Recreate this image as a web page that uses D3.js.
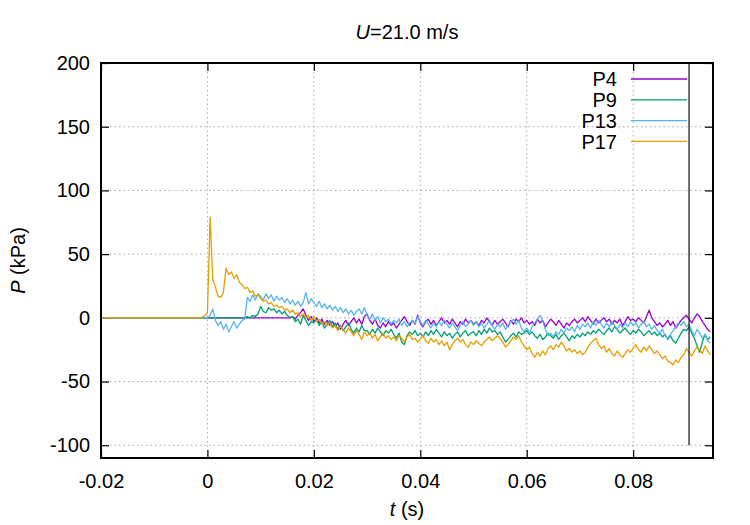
<!DOCTYPE html>
<html>
<head>
<meta charset="utf-8">
<script src="https://cdn.jsdelivr.net/npm/d3@7"></script>
<style>
    body { margin: 0; background: #fff; }
    svg text { font-family: "Liberation Sans", Arial, sans-serif; }
</style>
</head>
<body>
<svg id="chart"></svg>
<script>
// sampled pressure traces (kPa), first sample at t0, one sample every dt seconds
const t0 = -0.02, dt = 0.0005;

const p4 = [
    0,0,0,0,0,0,0,0,0,0, 0,0,0,0,0,0,0,0,0,0, 0,0,0,0,0,0,0,0,0,0, 0,0,0,0,0,0,0,0,0,0,
    0,0,0,0,0,0,0,0,0,0, 0,0,0,0,0,0,0,0,0,0, 0,0,0,0,0,0,0,0,0,0,
    0,0,1,-1,2,4,7,2,-2,1,
    -3,0,-4,-1,-5,-2,-6,-3,-7,-4,
    -9,-5,-2,-6,-3,0,-4,-1,-5,1,
    3,-2,-5,-1,-6,-8,-4,-7,-3,-6,
    -4,-8,-5,-2,1,-3,-6,-2,-5,2,
    -4,-7,-3,-1,-5,-2,-6,-3,0,-4,
    -2,-5,-1,-4,-7,-3,-5,-1,-4,-2,
    -5,-3,-6,-2,-4,0,-3,-6,-2,-5,
    -3,-1,-4,-7,-2,-5,-1,-3,0,-4,
    -2,-5,-3,-6,-1,-4,-2,-7,-4,-1,
    -3,-6,-2,-5,-8,-4,-6,-3,-1,-4,
    -2,0,-3,1,-2,-5,-1,-4,-2,0,
    -3,-1,-5,-2,-4,-1,-6,-3,1,-2,
    -1,-3,0,-2,-4,1,6,0,-3,-6,
    -4,-7,-5,-2,-6,-3,-8,-5,-2,0,
    2,-1,-4,0,3,1,-3,-6,-9,-11
];

const p9 = [
    0,0,0,0,0,0,0,0,0,0, 0,0,0,0,0,0,0,0,0,0, 0,0,0,0,0,0,0,0,0,0, 0,0,0,0,0,0,0,0,0,0,
    0,0,0,0,0,0,0,0,0,0,
    0,0,0,0,0,1,0,2,1,3,
    9,5,4,8,6,7,4,6,3,5,
    2,0,1,-3,-1,-5,2,-2,-6,-3,
    -4,-1,-6,-3,-8,-5,-2,-7,-4,-9,
    -6,-10,-7,-4,-9,-12,-8,-11,-6,-10,
    -10,-13,-9,-12,-8,-11,-14,-10,-12,-9,
    -13,-16,-12,-19,-21,-14,-11,-13,-10,-14,
    -12,-15,-11,-14,-10,-13,-9,-12,-15,-11,
    -14,-12,-16,-13,-11,-15,-12,-10,-14,-12,
    -11,-14,-10,-13,-9,-12,-8,-11,-10,-13,
    -11,-15,-19,-17,-14,-12,-15,-11,-13,-12,
    -10,-13,-11,-14,-16,-13,-17,-15,-12,-14,
    -16,-13,-17,-14,-12,-15,-18,-14,-16,-13,
    -15,-12,-14,-11,-13,-10,-12,-9,-11,-13,
    -10,-8,-11,-7,-9,-12,-10,-8,-11,-13,
    -10,-12,-9,-11,-14,-12,-10,-13,-11,-14,
    -12,-15,-13,-17,-14,-18,-20,-16,-12,-9,
    -10,-7,-12,-16,-22,-27,-19,-13,-17,-15
];

const p13 = [
    0,0,0,0,0,0,0,0,0,0, 0,0,0,0,0,0,0,0,0,0, 0,0,0,0,0,0,0,0,0,0, 0,0,0,0,0,0,0,0,0,0,
    0,2,7,-2,-6,-3,-9,-5,-11,-7,
    -3,-8,-5,-2,-1,16,13,18,14,19,
    17,14,19,15,18,13,17,14,16,12,
    15,11,14,10,13,9,12,20,11,15,
    12,9,13,8,11,7,10,6,9,5,
    8,4,7,3,6,2,5,7,3,8,
    2,-1,3,-2,1,-4,0,-3,-1,-5,
    -2,-4,-1,-6,-3,-7,-4,-2,-5,1,
    -3,-6,-2,-5,-8,-4,-7,-3,-6,-2,
    -5,-8,-4,-7,-10,-6,-3,-7,-5,-2,
    -6,-3,-7,-4,-8,-5,-2,-6,-9,-5,
    -7,-4,-9,-6,-3,-1,-5,-2,-8,-11,
    -8,-12,-7,-4,-1,2,-3,-9,-14,-12,
    -15,-11,-13,-9,-12,-8,-10,-7,-11,-6,
    -9,-5,-7,-4,-8,-3,-6,-2,-5,-8,
    -4,-7,-3,-6,-9,-5,-8,-4,-7,-3,
    -6,-4,-8,-5,-3,-7,-5,-9,-6,-10,
    -12,-9,-14,-16,-13,-10,-7,-4,-6,-3,
    -7,-5,-10,-14,-9,-12,-16,-13,-18,-20
];

const p17 = [
    0,0,0,0,0,0,0,0,0,0, 0,0,0,0,0,0,0,0,0,0, 0,0,0,0,0,0,0,0,0,0,
    0,0,0,0,0,0,0,0,0.5,1.5,
    4,79,30,24,17,16,20,39,34,36,
    31,34,28,26,23,24,20,21,17,18,
    15,13,14,11,12,9,10,8,9,6,
    7,4,6,3,4,1,3,0,2,-2,
    1,-3,-1,-5,-3,-6,-4,-8,-6,-10,
    -7,-9,-12,-8,-11,-14,-10,-13,-17,-11,
    -14,-12,-16,-13,-18,-15,-12,-16,-14,-17,
    -15,-18,-14,-16,-19,-15,-13,-17,-16,-19,
    -17,-14,-18,-20,-16,-19,-17,-21,-18,-22,
    -19,-25,-21,-18,-16,-19,-17,-21,-23,-19,
    -21,-18,-20,-22,-19,-17,-15,-18,-16,-14,
    -16,-19,-23,-21,-18,-15,-17,-14,-19,-22,
    -25,-23,-28,-31,-27,-30,-26,-29,-24,-22,
    -25,-21,-23,-19,-22,-26,-24,-27,-25,-28,
    -26,-29,-27,-23,-20,-18,-16,-21,-24,-22,
    -27,-24,-28,-30,-26,-29,-31,-28,-25,-27,
    -24,-21,-25,-27,-23,-26,-22,-25,-28,-26,
    -29,-32,-30,-34,-35,-37,-33,-35,-31,-29,
    -24,-27,-30,-26,-23,-25,-28,-22,-26,-29
];

const seriesNames = ["P4", "P9", "P13", "P17"];
const seriesValues = [p4, p9, p13, p17];
const seriesColors = ["#9400d3", "#009e73", "#56b4e9", "#e69f00"];

const xTicks = [-0.02, 0, 0.02, 0.04, 0.06, 0.08];
const yTicks = [-100, -50, 0, 50, 100, 150, 200];
const xDomain = [-0.02, 0.095];
const yDomain = [-110, 200];
const markerT = 0.0905, markerRange = [-100, 200];

const margin = { top: 63, right: 37, bottom: 67, left: 101 },
      width = 750 - margin.left - margin.right,
      height = 525 - margin.top - margin.bottom;

const svg = d3.select("#chart")
    .attr("width", width + margin.left + margin.right)
    .attr("height", height + margin.top + margin.bottom);

const g = svg.append("g")
    .attr("transform", `translate(${margin.left},${margin.top})`);

const x = d3.scaleLinear().domain(xDomain).range([0, width]);
const y = d3.scaleLinear().domain(yDomain).range([height, 0]);

const fmt = d => d3.format("~g")(d).replace("\u2212", "-");
const fontSize = "20px";

// grid
g.append("g")
    .selectAll("line")
    .data(xTicks)
    .enter().append("line")
    .attr("x1", d => x(d)).attr("x2", d => x(d))
    .attr("y1", 0).attr("y2", height)
    .attr("stroke", "#a8a8a8").attr("stroke-width", 1)
    .attr("stroke-dasharray", "1.5,3");

g.append("g")
    .selectAll("line")
    .data(yTicks)
    .enter().append("line")
    .attr("x1", 0).attr("x2", width)
    .attr("y1", d => y(d)).attr("y2", d => y(d))
    .attr("stroke", "#a8a8a8").attr("stroke-width", 1)
    .attr("stroke-dasharray", "1.5,3");

// axes with inward ticks on all sides
function styleAxis(sel) {
    sel.select(".domain").remove();
    sel.selectAll(".tick line").attr("stroke", "#000").attr("stroke-width", 1.2);
    sel.selectAll("text")
        .style("font-size", fontSize)
        .attr("fill", "#000");
}

g.append("g")
    .attr("transform", `translate(0,${height})`)
    .call(d3.axisBottom(x).tickValues(xTicks).tickFormat(fmt).tickSizeInner(-8).tickPadding(16))
    .call(styleAxis);

g.append("g")
    .call(d3.axisTop(x).tickValues(xTicks).tickFormat("").tickSizeInner(-8))
    .call(styleAxis);

g.append("g")
    .call(d3.axisLeft(y).tickValues(yTicks).tickFormat(fmt).tickSizeInner(-8).tickPadding(11))
    .call(styleAxis);

g.append("g")
    .attr("transform", `translate(${width},0)`)
    .call(d3.axisRight(y).tickValues(yTicks).tickFormat("").tickSizeInner(-8))
    .call(styleAxis);

// curves
g.append("clipPath").attr("id", "clip")
    .append("rect").attr("width", width).attr("height", height);

const line = d3.line()
    .x((d, i) => x(t0 + i * dt))
    .y(d => y(d));

g.append("g")
    .attr("clip-path", "url(#clip)")
    .selectAll("path")
    .data(seriesValues)
    .enter().append("path")
    .attr("d", line)
    .attr("fill", "none")
    .attr("stroke", (d, i) => seriesColors[i])
    .attr("stroke-width", 1.3)
    .attr("stroke-linejoin", "round");

// vertical marker
g.append("line")
    .attr("x1", x(markerT)).attr("x2", x(markerT))
    .attr("y1", y(markerRange[0])).attr("y2", y(markerRange[1]))
    .attr("stroke", "#222")
    .attr("stroke-width", 1.3);

// legend
const legend = g.append("g").attr("transform", `translate(${width - 96},16)`);
seriesNames.forEach((name, i) => {
    const row = legend.append("g").attr("transform", `translate(0,${i * 20.8})`);
    row.append("text")
        .attr("x", 0).attr("y", 0).attr("dy", "0.36em")
        .attr("text-anchor", "end")
        .style("font-size", fontSize)
        .text(name);
    row.append("line")
        .attr("x1", 14).attr("x2", 70)
        .attr("y1", 0).attr("y2", 0)
        .attr("stroke", seriesColors[i])
        .attr("stroke-width", 1.3);
});

// border
g.append("rect")
    .attr("width", width).attr("height", height)
    .attr("fill", "none")
    .attr("stroke", "#000")
    .attr("stroke-width", 2);

// title and axis labels
const title = svg.append("text")
    .attr("x", margin.left + width / 2)
    .attr("y", 39)
    .attr("text-anchor", "middle")
    .style("font-size", fontSize);
title.append("tspan").style("font-style", "italic").text("U");
title.append("tspan").text("=21.0 m/s");

const xLabel = svg.append("text")
    .attr("x", margin.left + width / 2)
    .attr("y", 516)
    .attr("text-anchor", "middle")
    .style("font-size", fontSize);
xLabel.append("tspan").style("font-style", "italic").text("t");
xLabel.append("tspan").text(" (s)");

const yLabel = svg.append("text")
    .attr("transform", `translate(25,${margin.top + height / 2}) rotate(-90)`)
    .attr("text-anchor", "middle")
    .style("font-size", fontSize);
yLabel.append("tspan").style("font-style", "italic").text("P");
yLabel.append("tspan").text(" (kPa)");
</script>
</body>
</html>
